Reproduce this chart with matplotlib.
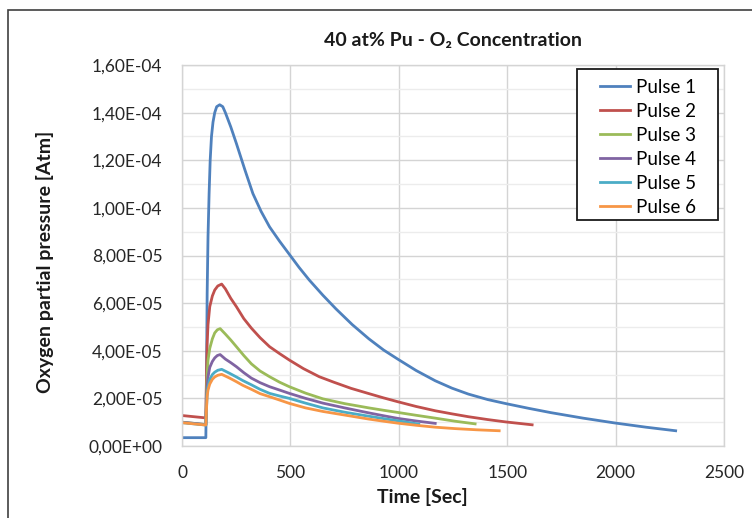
#!/usr/bin/env python3
"""O2 partial pressure after each gas pulse, 40 at% Pu sample."""
import matplotlib
matplotlib.use("Agg")
import matplotlib.pyplot as plt
from matplotlib.patches import Rectangle
from matplotlib.ticker import FuncFormatter, MultipleLocator

FONT = ["Lato", "DejaVu Sans"]
plt.rcParams["font.family"] = FONT

# time [s] and O2 partial pressure [1e-5 atm] for each pulse
T1 = [0, 110, 113, 116, 120, 125, 130, 136, 143, 151, 160, 174, 188, 200, 225,
      251, 290, 327, 365, 404, 450, 495, 540, 587, 650, 710, 785, 862, 930,
      995, 1080, 1168, 1245, 1321, 1410, 1494, 1600, 1702, 1850, 1994, 2140, 2277]
P1 = [0.35, 0.35, 3.0, 6.4, 8.8, 10.6, 12.0, 13.0, 13.6, 14.0, 14.25, 14.33,
      14.25, 14.0, 13.4, 12.7, 11.6, 10.6, 9.85, 9.2, 8.6, 8.05, 7.5, 6.97, 6.33,
      5.76, 5.1, 4.5, 4.03, 3.65, 3.17, 2.74, 2.43, 2.18, 1.95, 1.78, 1.58, 1.4,
      1.17, 0.97, 0.79, 0.64]

T2 = [0, 110, 113, 116, 120, 128, 140, 151, 165, 183, 200, 225, 251, 285, 320,
      360, 404, 450, 495, 560, 633, 700, 780, 862, 930, 995, 1080, 1168, 1245,
      1321, 1410, 1494, 1615]
P2 = [1.28, 1.18, 3.0, 4.3, 5.1, 5.85, 6.3, 6.55, 6.72, 6.8, 6.6, 6.2, 5.85,
      5.35, 4.95, 4.55, 4.17, 3.88, 3.61, 3.25, 2.91, 2.68, 2.42, 2.2, 2.02,
      1.86, 1.66, 1.48, 1.35, 1.23, 1.11, 1.01, 0.89]

T3 = [0, 110, 113, 116, 120, 128, 140, 151, 163, 176, 200, 225, 251, 285, 320,
      360, 404, 450, 495, 570, 650, 750, 862, 930, 995, 1080, 1168, 1260, 1352]
P3 = [1.0, 0.9, 2.1, 3.0, 3.6, 4.1, 4.5, 4.75, 4.88, 4.93, 4.7, 4.45, 4.17,
      3.8, 3.45, 3.15, 2.91, 2.68, 2.49, 2.22, 1.98, 1.78, 1.6, 1.5, 1.41, 1.29,
      1.17, 1.04, 0.93]

T4 = [0, 110, 113, 116, 120, 128, 140, 151, 163, 176, 200, 225, 251, 285, 320,
      360, 404, 450, 495, 570, 650, 750, 862, 930, 995, 1080, 1168]
P4 = [1.0, 0.9, 1.8, 2.5, 2.9, 3.3, 3.55, 3.7, 3.8, 3.84, 3.65, 3.5, 3.33,
      3.08, 2.85, 2.66, 2.49, 2.35, 2.21, 2.0, 1.8, 1.6, 1.39, 1.27, 1.16, 1.05,
      0.95]

T5 = [0, 110, 113, 116, 120, 128, 140, 151, 165, 183, 220, 251, 280, 320, 360,
      404, 450, 495, 570, 650, 750, 862, 930, 995, 1092]
P5 = [0.98, 0.88, 1.6, 2.2, 2.5, 2.8, 3.0, 3.1, 3.18, 3.22, 3.05, 2.9, 2.75,
      2.57, 2.38, 2.21, 2.1, 2.0, 1.8, 1.6, 1.42, 1.25, 1.15, 1.06, 0.92]

T6 = [0, 110, 113, 116, 120, 128, 140, 151, 165, 183, 220, 251, 280, 320, 360,
      404, 450, 495, 570, 650, 750, 862, 930, 995, 1080, 1168, 1260, 1360, 1463]
P6 = [0.98, 0.88, 1.55, 2.1, 2.35, 2.6, 2.8, 2.9, 2.97, 3.01, 2.85, 2.7, 2.55,
      2.38, 2.2, 2.07, 1.93, 1.79, 1.6, 1.45, 1.3, 1.13, 1.04, 0.96, 0.87, 0.79,
      0.73, 0.68, 0.64]

SERIES = [(T1, P1), (T2, P2), (T3, P3), (T4, P4), (T5, P5), (T6, P6)]
LABELS = ["Pulse 1", "Pulse 2", "Pulse 3", "Pulse 4", "Pulse 5", "Pulse 6"]
COLORS = ["#4F81BD", "#C0504D", "#9BBB59", "#8064A2", "#4BACC6", "#F79646"]


def sci_comma(v, _pos):
    return f"{v:.2E}".replace(".", ",")


fig = plt.figure(figsize=(7.52, 5.18), dpi=100)
ax = fig.add_axes([182 / 752, 1 - 446 / 518, 542 / 752, 381 / 518])

for (t, p), lab, col in zip(SERIES, LABELS, COLORS):
    ax.plot(t, [v * 1e-5 for v in p], color=col, lw=2.0, label=lab,
            solid_joinstyle="round")

ax.set_xlim(0, 2500)
ax.set_ylim(0, 1.6e-4)
ax.xaxis.set_major_locator(MultipleLocator(500))
ax.yaxis.set_major_locator(MultipleLocator(2e-5))
ax.yaxis.set_minor_locator(MultipleLocator(1e-5))
ax.yaxis.set_major_formatter(FuncFormatter(sci_comma))

ax.grid(True, which="major", color="#d4d4d4", lw=1.0)
ax.grid(True, which="minor", axis="y", color="#ececec", lw=1.0)
ax.set_axisbelow(True)
for s in ax.spines.values():
    s.set_color("#d4d4d4")
    s.set_linewidth(1.0)
ax.tick_params(which="both", length=0, labelsize=12.5, colors="#262626")
ax.tick_params(axis="x", pad=14)
ax.tick_params(axis="y", pad=14)

fig.text(453 / 752, 1 - 40 / 518, "40 at% Pu - O\u2082 Concentration",
         ha="center", va="center", fontsize=14, fontweight="bold",
         color="#1a1a1a", family=FONT)
fig.text(45 / 752, 1 - 262 / 518, "Oxygen partial pressure [Atm]",
         ha="center", va="center", rotation=90, fontsize=14,
         fontweight="bold", color="#1a1a1a")
fig.text(422 / 752, 1 - 497 / 518, "Time [Sec]", ha="center", va="center",
         fontsize=14, fontweight="bold", color="#1a1a1a")

# legend entries without frame; the box is drawn separately so it can be
# wider than the entries
leg = ax.legend(loc="upper left", bbox_to_anchor=(600 / 752, 1 - 79 / 518),
                bbox_transform=fig.transFigure, borderaxespad=0, borderpad=0,
                fontsize=13.5, handlelength=1.6, handletextpad=0.3,
                labelspacing=0.37, frameon=False)
leg.set_zorder(6)
ax.add_patch(Rectangle((577 / 752, 1 - 220 / 518), 141 / 752, 151 / 518,
                       transform=fig.transFigure, facecolor="white",
                       edgecolor="#1a1a1a", lw=1.3, zorder=5, clip_on=False))

# chart-area frame
fig.patches.append(Rectangle((8 / 752, -0.1), 1.2, 1.1 - 10 / 518,
                             transform=fig.transFigure, fill=False,
                             edgecolor="#404040", lw=1.2))

fig.savefig("out.png", dpi=100)
